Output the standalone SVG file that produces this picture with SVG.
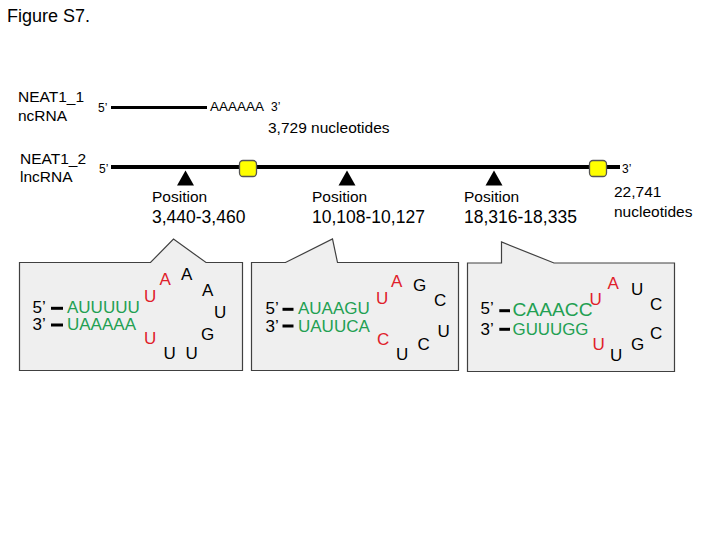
<svg xmlns="http://www.w3.org/2000/svg" width="720" height="540" viewBox="0 0 720 540">
<style>
text{font-family:"Liberation Sans",Arial,sans-serif;fill:#000}
.lbl{font-size:15.5px}
.end{font-size:12px}
.num{font-size:17.5px}
.nt{font-size:17px}
.g{fill:#22a052}
.r{fill:#e0202a}
.call{fill:#efefef;stroke:#404040;stroke-width:1.2}
.sq{fill:#ffff00;stroke:#555;stroke-width:1.3}
.dash{stroke:#000;stroke-width:3}
</style>
<rect width="720" height="540" fill="#fff"/>
<text x="7" y="22" style="font-size:18px">Figure S7.</text>

<g id="neat1_1">
<text class="lbl" x="18" y="101.5">NEAT1_1</text>
<text class="lbl" x="18" y="120.5">ncRNA</text>
<text class="end" x="98" y="111.5">5’</text>
<line x1="111" y1="107.5" x2="207" y2="107.5" stroke="#000" stroke-width="3"/>
<text x="210" y="110.7" style="font-size:13.5px">AAAAAA</text>
<text class="end" x="271" y="110.7">3’</text>
<text class="lbl" x="268" y="133.3">3,729 nucleotides</text>
</g>

<g id="neat1_2">
<text class="lbl" x="20" y="163.5">NEAT1_2</text>
<text class="lbl" x="20" y="182">lncRNA</text>
<text class="end" x="99" y="173">5’</text>
<line x1="111" y1="167" x2="620" y2="167" stroke="#000" stroke-width="4"/>
<rect class="sq" x="239.5" y="160.5" width="17" height="16" rx="3.5"/>
<rect class="sq" x="589.5" y="160.5" width="17" height="16" rx="3.5"/>
<text class="end" x="622" y="173">3’</text>
<text class="lbl" x="614" y="197">22,741</text>
<text class="lbl" x="614" y="216.5">nucleotides</text>
</g>

<g id="site1">
<polygon points="185.5,170.5 177,185.5 194,185.5" fill="#000"/>
<text class="lbl" x="152" y="202">Position</text>
<text class="num" x="152" y="223">3,440-3,460</text>
</g>
<g id="site2">
<polygon points="347,170.5 338.5,185.5 355.5,185.5" fill="#000"/>
<text class="lbl" x="312" y="202">Position</text>
<text class="num" x="312" y="223">10,108-10,127</text>
</g>
<g id="site3">
<polygon points="494,170.5 485.5,185.5 502.5,185.5" fill="#000"/>
<text class="lbl" x="464" y="202">Position</text>
<text class="num" x="464" y="223">18,316-18,335</text>
</g>

<g id="callout1">
<path class="call" d="M19.5,262.5 H150.5 L173.5,239 L206,262.5 H242.5 V370.5 H19.5 Z"/>
<text class="nt" x="32.5" y="313">5’</text>
<line class="dash" x1="51" y1="308.3" x2="63" y2="308.3"/>
<text class="nt g" x="67" y="313">AUUUUU</text>
<text class="nt" x="32.5" y="330">3’</text>
<line class="dash" x1="51" y1="325" x2="63" y2="325"/>
<text class="nt g" x="67" y="330">UAAAAA</text>
<text class="nt r" x="144" y="302">U</text>
<text class="nt r" x="159.5" y="285">A</text>
<text class="nt" x="181" y="280">A</text>
<text class="nt" x="202" y="296">A</text>
<text class="nt" x="214" y="317.5">U</text>
<text class="nt" x="201" y="339.5">G</text>
<text class="nt" x="185.5" y="358.5">U</text>
<text class="nt" x="163.5" y="358.5">U</text>
<text class="nt r" x="144" y="344">U</text>
</g>

<g id="callout2">
<path class="call" d="M251.5,262.5 H285.5 L332.5,239 L337.5,262.5 H458.5 V370.5 H251.5 Z"/>
<text class="nt" x="265.5" y="313.5">5’</text>
<line class="dash" x1="282.5" y1="309.3" x2="293.5" y2="309.3"/>
<text class="nt g" x="298" y="313.5">AUAAGU</text>
<text class="nt" x="265.5" y="331.7">3’</text>
<line class="dash" x1="282.5" y1="326" x2="293.5" y2="326"/>
<text class="nt g" x="298" y="331.7">UAUUCA</text>
<text class="nt r" x="376" y="303.5">U</text>
<text class="nt r" x="391" y="287">A</text>
<text class="nt" x="413" y="291">G</text>
<text class="nt" x="434" y="306">C</text>
<text class="nt" x="437.5" y="337">U</text>
<text class="nt" x="417.5" y="350">C</text>
<text class="nt" x="396" y="360">U</text>
<text class="nt r" x="377" y="345">C</text>
</g>

<g id="callout3">
<path class="call" d="M467.5,263 H501.5 V242 L554,263 H674.5 V371.5 H467.5 Z"/>
<text class="nt" x="480.5" y="314">5’</text>
<line class="dash" x1="499.3" y1="310.7" x2="510" y2="310.7"/>
<text class="g" x="512.5" y="316" style="font-size:19px" textLength="80" lengthAdjust="spacingAndGlyphs">CAAACC</text>
<text class="nt" x="480.5" y="335">3’</text>
<line class="dash" x1="499.3" y1="329.3" x2="510" y2="329.3"/>
<text class="g" x="512.5" y="335" style="font-size:16px" textLength="76" lengthAdjust="spacingAndGlyphs">GUUUGG</text>
<text class="nt r" x="589.5" y="305">U</text>
<text class="nt r" x="607.5" y="288.5">A</text>
<text class="nt" x="631" y="294.5">U</text>
<text class="nt" x="650" y="309.5">C</text>
<text class="nt" x="650" y="338.5">C</text>
<text class="nt" x="631" y="350">G</text>
<text class="nt" x="610" y="361">U</text>
<text class="nt r" x="592.5" y="350">U</text>
</g>
</svg>
